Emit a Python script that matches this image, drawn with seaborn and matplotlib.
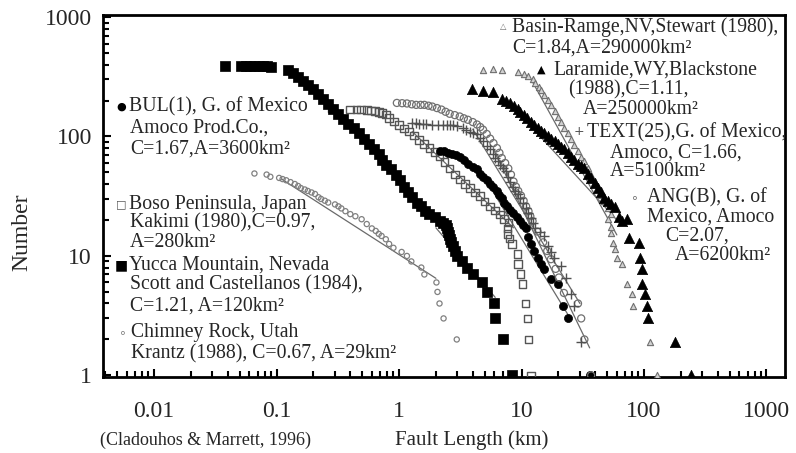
import matplotlib
matplotlib.use("Agg")
import matplotlib.pyplot as plt
from matplotlib.ticker import LogLocator, FixedLocator, FuncFormatter, NullFormatter
import numpy as np
import pandas as pd
import seaborn as sns

# ---------------- data ----------------
yucca_x = [0.038, 0.051, 0.056, 0.061, 0.066, 0.072, 0.078, 0.084, 0.09,
           0.123, 0.135, 0.149, 0.164, 0.18, 0.198, 0.218, 0.24, 0.264, 0.29,
           0.319, 0.35, 0.386, 0.425, 0.467, 0.515, 0.565, 0.62, 0.683,
           0.73, 0.781, 0.86, 0.944, 1.02, 1.10, 1.19, 1.28, 1.40, 1.52, 1.64,
           1.77, 1.95, 2.14, 2.3, 2.44,
           2.46, 2.5, 2.55, 2.6, 2.66, 2.75, 2.85, 2.96,
           3.25, 3.6, 4.0, 4.76, 5.2, 6.0, 6.1, 7.1, 8.4]
yucca_n = [390, 392, 391, 390, 389, 388, 387, 386, 385,
           362, 338, 316, 292, 271, 248, 228, 207, 188, 171,
           155, 141, 128, 117, 106, 95, 86, 78, 71,
           64, 58, 53, 48, 43, 38, 34, 31, 28, 26, 24,
           22.4, 21, 19.6, 19, 18,
           17, 16, 15, 14, 13, 12, 11, 10,
           9, 8, 7, 6, 5, 4, 3, 2, 1]

chimney_x = [0.066, 0.083, 0.089, 0.105, 0.112, 0.12, 0.13, 0.141, 0.15, 0.158,
             0.17, 0.18, 0.193, 0.206, 0.22, 0.231, 0.248, 0.264, 0.3, 0.32,
             0.338, 0.365, 0.4, 0.44, 0.495, 0.545, 0.6, 0.645, 0.683, 0.72,
             0.78, 0.83, 0.9, 1.05, 1.16, 1.26, 1.52, 1.61, 2.02, 2.06,
             2.14, 2.31, 2.96]
chimney_n = [49, 48, 46, 45, 44, 43, 41.5, 40, 38.5, 37,
             36, 35, 34, 33, 31, 30, 29, 28, 27, 26,
             25, 23.7, 22.4, 21.5, 20.3, 18.5, 17, 16.2, 15.3, 14.7,
             13.8, 12.6, 11.7, 10.8, 10, 9, 8, 7, 6, 5,
             4, 3, 2]

boso_x = [0.28, 0.40, 0.45, 0.49, 0.55, 0.59, 0.64, 0.683, 0.73, 0.78,
          0.83, 0.91, 1.0, 1.1, 1.21, 1.33, 1.46, 1.6, 1.77, 1.95,
          2.14, 2.35, 2.59, 2.85, 3.13, 3.45, 3.79, 4.15, 4.58, 5.0,
          5.54, 6.1, 6.7, 7.2, 7.85, 7.7, 7.7, 8.0, 8.4, 9.3,
          9.4, 9.8, 10.2, 10.8, 11.2, 11.4, 11.9]
boso_n = [171, 168, 168, 168, 166, 165, 163, 160, 157, 153,
          143, 134, 125, 117, 110, 102, 94, 87, 80, 74,
          68, 61, 54, 48, 43.5, 40, 37, 34, 31.6, 28.5,
          26, 24, 22.2, 20.5, 19, 17, 15.2, 14, 12.6, 10.4,
          8.6, 7.1, 5.8, 4, 3, 2, 1]

bul_x = [2.14, 2.35, 2.5, 2.7, 2.9, 3.13, 3.4, 3.65, 4.0, 4.33,
         4.6, 4.85, 5.2, 5.54, 5.9, 6.3, 6.6, 6.9, 7.25, 7.6,
         8.1, 8.6, 9.2, 9.8, 10.3, 10.8, 11.3, 11.9, 12.7, 13.6,
         14.4, 15.2, 17.4, 19.8, 21.8, 23.9, 36]
bul_n = [75, 75, 73, 71, 70, 68, 63, 59, 56, 53,
         49, 46, 43, 40, 37.5, 35, 32.5, 30.6, 28, 26,
         24.3, 22.8, 21, 19.6, 18, 17.2, 14.5, 12.6, 11, 9.6,
         8.6, 7.8, 6.4, 5.8, 3.8, 3.0, 1]

ang_x = [0.96, 1.06, 1.16, 1.27, 1.38, 1.5, 1.61, 1.74, 1.87, 2.04,
         2.22, 2.4, 2.59, 2.85, 3.13, 3.38, 3.65, 4.0, 4.33, 4.6,
         4.85, 5.2, 5.54, 5.9, 6.3, 6.6, 6.9, 7.35, 7.8, 8.2,
         8.6, 9.0, 9.4, 9.9, 10.4, 10.9, 11.4, 11.8, 12.3, 13.5,
         15, 16.2, 17.4, 19, 20.2, 22.2, 28.9, 30.7, 32.6, 37]
ang_n = [191, 190, 189, 186, 184, 184, 184, 181, 178, 173,
         168, 161, 155, 151, 147, 142, 138, 132, 126, 120,
         114, 105, 96, 88, 80, 73, 66, 60, 54, 48,
         42, 38, 35, 32, 29, 26, 23.7, 21.5, 19.6, 16,
         13, 11, 9.4, 7.8, 6.6, 4.9, 4.0, 3.0, 2, 1]

text_x = [1.28, 1.37, 1.46, 1.56, 1.67, 1.87, 2.07, 2.27, 2.45, 2.59,
          2.76, 2.96, 3.3, 3.55, 3.79, 4.05, 4.33, 4.6, 4.85, 5.2,
          5.54, 5.8, 6.1, 6.4, 6.7, 7.05, 7.4, 7.75, 8.1, 8.5,
          8.9, 9.4, 9.8, 10.3, 10.8, 11.3, 11.9, 12.4, 13.0, 14.1,
          15.2, 16.4, 17.4, 18.4, 21, 23, 25.4, 26.8, 30.7]
text_n = [129, 129, 128, 128, 127, 126, 126, 125, 125, 125,
          124, 123, 117, 113, 110, 107, 104, 97, 91, 84,
          78, 72, 66, 62, 58, 54, 51, 46, 42, 38,
          35, 33, 30.6, 28, 25, 22.8, 20.8, 19, 17.2, 16,
          14.7, 12.1, 10.8, 9.6, 8.2, 6.5, 4.8, 3.8, 1.9]

basin_x = [4.85, 5.87, 6.9, 9.3, 10.4, 11.3, 12.3, 13.0, 13.8, 14.5,
           15.2, 16.3, 17.4, 18.6, 19.8, 21, 22.3, 23.8, 25.4, 27,
           29, 30.8, 32.6, 35, 37, 39.5, 42, 44.5, 47.5, 51,
           54, 51, 54, 54, 56, 57.5, 60, 65.8, 72, 80,
           82, 111, 128]
basin_n = [362, 370, 362, 348, 335, 318, 300, 280, 262, 243,
           224, 204, 185, 165, 147, 131, 117, 106, 96, 85,
           75, 68, 62, 54, 48, 42, 37, 32.5, 28.7, 25,
           22.4, 20.4, 17.5, 15.5, 12.8, 11.4, 9.6, 8.6, 5.8, 4.8,
           3.8, 1.9, 1]

laramide_x = [3.93, 4.85, 5.87, 6.9, 7.5, 8.1, 8.7, 9.3, 9.8, 10.4,
              11.1, 11.9, 12.7, 13.6, 14.4, 15.2, 16.3, 17.4, 18.6, 19.8,
              21, 22.3, 23.8, 25.4, 27, 29, 30.8, 32.6, 34.8, 37,
              39.5, 42, 44.5, 47.5, 51, 54, 58, 62, 65.8, 72,
              76, 90.3, 93.2, 96, 96, 101, 106, 108, 180, 240]
laramide_n = [250, 242, 237, 206, 198, 189, 180, 171, 161, 152,
              142, 133, 125, 117, 111, 106, 101, 96, 91, 87,
              82, 78, 73, 68, 63, 59, 57, 54, 49, 44.7,
              41, 37, 34, 30.6, 29, 27, 25.5, 21, 19.6, 20.3,
              14.2, 12.9, 9.7, 7.8, 5.8, 4.8, 3.8, 3.0, 1.9, 1]

# fitted power-law lines (end points)
fit_names = ["chimney", "yucca", "boso", "bul", "text", "ang", "basin", "laramide"]
fit_x0 = [0.11, 2.0, 1.28, 5.0, 4.0, 6.0, 12.0, 8.0]
fit_x1 = [2.0, 6.1, 8.6, 25.0, 30.0, 36.0, 60.0, 60.0]
fit_n0 = [44, 17.2, 110, 45, 115, 75, 300, 190]
fit_n1 = [6.5, 4.5, 17.2, 3.0, 4.0, 1.7, 15, 20]

x_ticks = [0.01, 0.1, 1, 10, 100, 1000]
y_ticks = [1, 10, 100, 1000]

# ---------------- figure ----------------
sns.set_style("ticks")
plt.rcParams["font.family"] = ["Liberation Serif", "DejaVu Sans"]

W, H = 796, 453
fig = plt.figure(figsize=(W / 100, H / 100), dpi=100)
ax = fig.add_axes([103 / W, 1 - 377 / H, (785 - 103) / W, (377 - 15) / H])

# fitted lines
for i, name in enumerate(fit_names):
    dfl = pd.DataFrame({"x": [fit_x0[i], fit_x1[i]], "n": [fit_n0[i], fit_n1[i]]})
    sns.lineplot(data=dfl, x="x", y="n", ax=ax, color="#6a6a6a", lw=0.9,
                 estimator=None, sort=False, zorder=2)

series = [
    ("chimney", chimney_x, chimney_n, dict(marker="o", s=14, facecolor="none",
                                           edgecolor="#808080", color="#808080", linewidth=0.9)),
    ("boso", boso_x, boso_n, dict(marker="s", s=30, facecolor="none",
                                  edgecolor="#555555", color="#555555", linewidth=1.0)),
    ("yucca", yucca_x, yucca_n, dict(marker="s", s=50, color="black", edgecolor="black", linewidth=0.5)),
    ("bul", bul_x, bul_n, dict(marker="o", s=34, color="black", edgecolor="black", linewidth=0.5)),
    ("ang", ang_x, ang_n, dict(marker="o", s=26, facecolor="none",
                               edgecolor="#707070", color="#707070", linewidth=0.9)),
    ("text", text_x, text_n, dict(marker="+", s=50, color="#505050", linewidth=1.0)),
    ("basin", basin_x, basin_n, dict(marker="^", s=20, facecolor="#d0d0d0",
                                     edgecolor="#707070", color="#707070", linewidth=0.8)),
    ("laramide", laramide_x, laramide_n, dict(marker="^", s=55, color="black", edgecolor="black", linewidth=0.5)),
]
for name, xs, ns, kw in series:
    df = pd.DataFrame({"x": xs, "n": ns})
    sns.scatterplot(data=df, x="x", y="n", ax=ax, legend=False, zorder=3, **kw)

ax.set_xscale("log")
ax.set_yscale("log")
ax.set_xlim(0.00383, 1416)
ax.set_ylim(0.97, 1040)

ax.xaxis.set_major_locator(FixedLocator(x_ticks))
ax.yaxis.set_major_locator(FixedLocator(y_ticks))
ax.xaxis.set_minor_locator(LogLocator(base=10, subs=np.arange(2, 10), numticks=50))
ax.yaxis.set_minor_locator(LogLocator(base=10, subs=np.arange(2, 10), numticks=50))
ax.xaxis.set_minor_formatter(NullFormatter())
ax.yaxis.set_minor_formatter(NullFormatter())
ax.xaxis.set_major_formatter(FuncFormatter(lambda v, p: f"{v:g}"))
ax.yaxis.set_major_formatter(FuncFormatter(lambda v, p: f"{v:g}"))

ax.tick_params(which="both", direction="in", top=False, right=False, width=1.5, color="black")
ax.tick_params(which="major", length=6)
ax.tick_params(which="minor", length=4)
ax.tick_params(axis="x", which="major", labelsize=17, pad=17)
ax.tick_params(axis="y", which="major", labelsize=17, pad=8)
for sp in ax.spines.values():
    sp.set_linewidth(2.0)
    sp.set_color("black")
ax.set_xlabel("")
ax.set_ylabel("")


def ftext(px, py, s, **kw):
    kw.setdefault("va", "center")
    kw.setdefault("ha", "left")
    fig.text(px / W, 1 - py / H, s, **kw)


FS = 14.2
MK = dict(family=["DejaVu Sans"])

# left-hand notes
ftext(121, 107, "●", fontsize=8, color="black", ha="center", **MK)
ftext(129, 107, "BUL(1), G. of Mexico", fontsize=FS)
ftext(130, 128, "Amoco Prod.Co.,", fontsize=FS)
ftext(130, 149, "C=1.67,A=3600km²", fontsize=FS)

ftext(121, 204, "□", fontsize=8, color="#555555", ha="center", **MK)
ftext(129, 204, "Boso Peninsula, Japan", fontsize=FS)
ftext(130, 223, "Kakimi (1980),C=0.97,", fontsize=FS)
ftext(130, 243, "A=280km²", fontsize=FS)

ftext(121, 265, "■", fontsize=10, color="black", ha="center", **MK)
ftext(129, 265, "Yucca Mountain, Nevada", fontsize=FS)
ftext(130, 285, "Scott and Castellanos (1984),", fontsize=FS)
ftext(130, 306, "C=1.21, A=120km²", fontsize=FS)

ftext(122, 333, "∘", fontsize=9, color="#808080", ha="center", **MK)
ftext(131, 333, "Chimney Rock, Utah", fontsize=FS)
ftext(131, 354, "Krantz (1988), C=0.67, A=29km²", fontsize=FS)

# right-hand notes
ftext(503, 27, "△", fontsize=6, color="#707070", ha="center", **MK)
ftext(512, 27, "Basin-Ramge,NV,Stewart (1980),", fontsize=FS)
ftext(512, 48, "C=1.84,A=290000km²", fontsize=FS)

ftext(541, 70, "▲", fontsize=8, color="black", ha="center", **MK)
ftext(553, 70, "Laramide,WY,Blackstone", fontsize=FS)
ftext(568, 90, "(1988),C=1.11,", fontsize=FS)
ftext(583, 110, "A=250000km²", fontsize=FS)

ftext(579, 132, "+", fontsize=9, color="#505050", ha="center", **MK)
ftext(587, 133, "TEXT(25),G. of Mexico,", fontsize=FS)
ftext(610, 153, "Amoco, C=1.66,", fontsize=FS)
ftext(610, 172, "A=5100km²", fontsize=FS)

ftext(634, 198, "∘", fontsize=9, color="#707070", ha="center", **MK)
ftext(647, 198, "ANG(B), G. of", fontsize=FS)
ftext(647, 217, "Mexico, Amoco", fontsize=FS)
ftext(665, 236, "C=2.07,", fontsize=FS)
ftext(675, 255, "A=6200km²", fontsize=FS)

# axis titles / caption
ftext(22, 232, "Number", fontsize=17, rotation=90, ha="center")
ftext(472, 440, "Fault Length (km)", fontsize=15, ha="center")
ftext(206, 440, "(Cladouhos & Marrett, 1996)", fontsize=13, ha="center")

fig.savefig("out.png", dpi=100)
